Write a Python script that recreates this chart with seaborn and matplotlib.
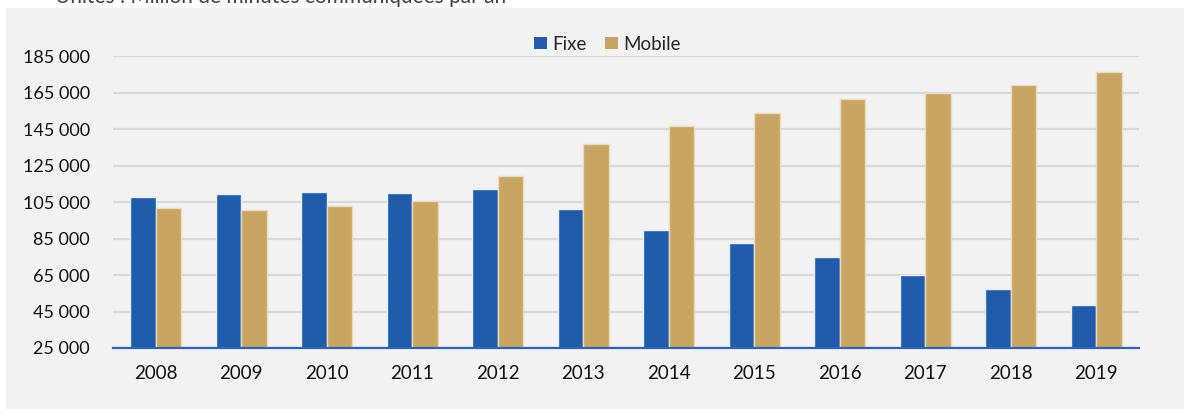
import matplotlib
matplotlib.use("Agg")
import matplotlib.pyplot as plt
import seaborn as sns
import pandas as pd

years = ["2008", "2009", "2010", "2011", "2012", "2013", "2014", "2015", "2016", "2017", "2018", "2019"]
fixe = [107800, 109300, 110400, 109900, 112200, 101400, 89900, 82500, 74600, 65100, 57300, 48700]
mobile = [101600, 100700, 102700, 105300, 119300, 137000, 146700, 154000, 161300, 164600, 169000, 176100]
series = ["Fixe", "Mobile"]
yticks = [25000, 45000, 65000, 85000, 105000, 125000, 145000, 165000, 185000]

df = pd.DataFrame({
    "Année": years * 2,
    "Valeur": fixe + mobile,
    "Série": [series[0]] * len(years) + [series[1]] * len(years),
})

sns.set_theme(style="white")
plt.rcParams["font.family"] = ["Lato", "DejaVu Sans"]

BLUE = "#215CAB"
GOLD = "#C8A562"
BG = "#F2F2F2"

fig = plt.figure(figsize=(11.84, 4.09), dpi=100)
fig.patch.set_facecolor("white")

# grey panel behind the chart
bg = fig.add_axes([6 / 1184, 0, 1 - 6 / 1184, 1 - 8 / 409], zorder=-1)
bg.set_facecolor(BG)
bg.set_xticks([])
bg.set_yticks([])
for s in bg.spines.values():
    s.set_visible(False)

fig.text(55 / 1184, 1 - 3 / 409, "Unités : Million de minutes communiquées par an",
         ha="left", va="baseline", fontsize=15, color="#404040")

ax = fig.add_axes([113 / 1184, 1 - 348 / 409, (1139 - 113) / 1184, (348 - 56) / 409], zorder=1)
ax.patch.set_alpha(0)
sns.barplot(data=df, x="Année", y="Valeur", hue="Série", palette=[BLUE, GOLD],
            hue_order=series, width=0.6, ax=ax, saturation=1, legend=True)
for bar in ax.patches:
    fc = bar.get_facecolor()
    bar.set_edgecolor("#E8EEF7" if fc[2] > 0.5 else "#E9DCC0")
    bar.set_linewidth(1.0)
    bar.set_zorder(3)

ax.set_ylim(25000, 185000)
ax.set_xlim(-0.5, len(years) - 0.5)
ax.set_yticks(yticks)
ax.set_yticklabels([f"{v:,}".replace(",", " ") for v in yticks])
ax.yaxis.grid(True, color="#D9D9D9", linewidth=1.6, zorder=0)
ax.set_axisbelow(True)
for s in ["top", "right", "left"]:
    ax.spines[s].set_visible(False)
ax.spines["bottom"].set_color("#2E64B4")
ax.spines["bottom"].set_linewidth(1.6)
ax.spines["bottom"].set_zorder(4)
ax.tick_params(axis="y", length=0, pad=16.5, labelsize=13, labelcolor="#111111")
ax.tick_params(axis="x", length=0, pad=12, labelsize=13.5, labelcolor="#111111")
ax.set_xlabel("")
ax.set_ylabel("")

leg = ax.legend(loc="center", bbox_to_anchor=(0.482, 1 + 12 / 292), ncol=2, frameon=False,
                fontsize=13.5, handlelength=0.65, handleheight=0.65, handletextpad=0.3,
                columnspacing=1.0)
for h in leg.legend_handles:
    h.set_edgecolor("none")

fig.savefig("out.png", dpi=100, facecolor=fig.get_facecolor())
